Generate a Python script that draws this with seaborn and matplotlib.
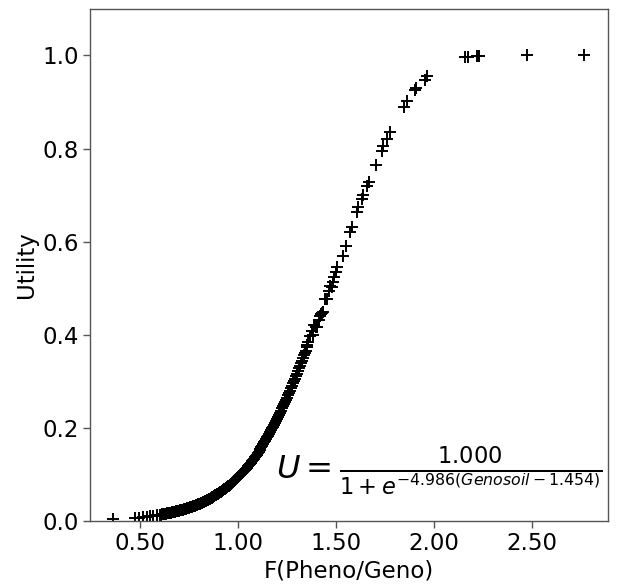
import matplotlib
matplotlib.use("Agg")
import matplotlib.pyplot as plt
from matplotlib.ticker import FormatStrFormatter
import seaborn as sns
import pandas as pd

# Low tail points
x_low = [0.362, 0.474, 0.495, 0.515, 0.536, 0.551, 0.566, 0.587]
y_low = [0.004, 0.007, 0.008, 0.009, 0.010, 0.011, 0.012, 0.013]

# Dense part of the curve
x_dense = [0.60, 0.61, 0.62, 0.63, 0.64, 0.65, 0.66, 0.67, 0.68, 0.69,
           0.70, 0.71, 0.72, 0.73, 0.74, 0.75, 0.76, 0.77, 0.78, 0.79,
           0.80, 0.81, 0.82, 0.83, 0.84, 0.85, 0.86, 0.87, 0.88, 0.89,
           0.90, 0.91, 0.92, 0.93, 0.94, 0.95, 0.96, 0.97, 0.98, 0.99,
           1.00, 1.01, 1.02, 1.03, 1.04, 1.05, 1.06, 1.07, 1.08, 1.09,
           1.10, 1.11, 1.12, 1.13, 1.14, 1.15, 1.16, 1.17, 1.18, 1.19,
           1.20, 1.21, 1.22, 1.23, 1.24, 1.25, 1.26, 1.27, 1.28, 1.29,
           1.30, 1.31, 1.32, 1.33, 1.34, 1.35, 1.36, 1.37, 1.38, 1.39]
y_dense = [0.0140, 0.0147, 0.0154, 0.0162, 0.0170, 0.0178, 0.0187, 0.0197, 0.0206, 0.0217,
           0.0228, 0.0239, 0.0251, 0.0263, 0.0276, 0.0290, 0.0305, 0.0320, 0.0335, 0.0352,
           0.0369, 0.0388, 0.0407, 0.0427, 0.0447, 0.0469, 0.0492, 0.0516, 0.0541, 0.0567,
           0.0594, 0.0622, 0.0652, 0.0683, 0.0716, 0.0750, 0.0785, 0.0822, 0.0860, 0.0900,
           0.0942, 0.0985, 0.1030, 0.1078, 0.1126, 0.1176, 0.1230, 0.1284, 0.1340, 0.1401,
           0.1462, 0.1524, 0.1590, 0.1658, 0.1727, 0.1802, 0.1876, 0.1953, 0.2033, 0.2114,
           0.2198, 0.2283, 0.2375, 0.2463, 0.2558, 0.2653, 0.2755, 0.2857, 0.2959, 0.3058,
           0.3165, 0.3279, 0.3390, 0.3497, 0.3610, 0.3731, 0.3846, 0.3968, 0.4088, 0.4209]

# More points in the dense band
x_dense2 = [0.605, 0.615, 0.625, 0.635, 0.645, 0.655, 0.665, 0.675, 0.685, 0.695,
            0.705, 0.715, 0.725, 0.735, 0.745, 0.755, 0.765, 0.775, 0.785, 0.795,
            0.805, 0.815, 0.825, 0.835, 0.845, 0.855, 0.865, 0.875, 0.885, 0.895,
            0.905, 0.915, 0.925, 0.935, 0.945, 0.955, 0.965, 0.975, 0.985, 0.995,
            1.005, 1.015, 1.025, 1.035, 1.045, 1.055, 1.065, 1.075, 1.085, 1.095,
            1.105, 1.115, 1.125, 1.135, 1.145, 1.155, 1.165, 1.175, 1.185, 1.195,
            1.205, 1.215, 1.225, 1.235, 1.245, 1.255, 1.265, 1.275, 1.285, 1.295,
            1.305, 1.315, 1.325, 1.335, 1.345, 1.355]
y_dense2 = [0.0143, 0.0150, 0.0158, 0.0166, 0.0174, 0.0183, 0.0192, 0.0202, 0.0212, 0.0222,
            0.0233, 0.0245, 0.0257, 0.0270, 0.0283, 0.0297, 0.0312, 0.0328, 0.0344, 0.0361,
            0.0378, 0.0397, 0.0416, 0.0437, 0.0458, 0.0480, 0.0504, 0.0528, 0.0553, 0.0580,
            0.0608, 0.0637, 0.0668, 0.0699, 0.0733, 0.0767, 0.0803, 0.0840, 0.0880, 0.0921,
            0.0963, 0.1008, 0.1053, 0.1101, 0.1151, 0.1202, 0.1258, 0.1312, 0.1370, 0.1431,
            0.1493, 0.1558, 0.1623, 0.1692, 0.1764, 0.1838, 0.1916, 0.1992, 0.2075, 0.2155,
            0.2242, 0.2326, 0.2421, 0.2513, 0.2604, 0.2703, 0.2801, 0.2907, 0.3012, 0.3115,
            0.3215, 0.3333, 0.3448, 0.3559, 0.3663, 0.3788]

# Sparse upper points
x_high = [1.383, 1.398, 1.403, 1.413, 1.418, 1.423, 1.429, 1.434, 1.444, 1.454,
          1.464, 1.469, 1.480, 1.485, 1.490, 1.500, 1.505, 1.536, 1.551, 1.571,
          1.582, 1.607, 1.612, 1.633, 1.638, 1.658, 1.668, 1.704, 1.735, 1.740,
          1.760, 1.776, 1.847, 1.862, 1.903, 1.908, 1.954, 1.964, 2.158, 2.173,
          2.219, 2.229, 2.474, 2.765]
y_high = [0.400, 0.416, 0.416, 0.433, 0.440, 0.444, 0.448, 0.450, 0.476, 0.476,
          0.494, 0.504, 0.502, 0.513, 0.524, 0.534, 0.545, 0.569, 0.590, 0.621,
          0.631, 0.664, 0.675, 0.692, 0.700, 0.720, 0.728, 0.765, 0.795, 0.806,
          0.821, 0.836, 0.890, 0.903, 0.925, 0.929, 0.948, 0.955, 0.996, 0.996,
          0.998, 0.998, 1.000, 1.000]

x_ticks = [0.5, 1.0, 1.5, 2.0, 2.5]
y_ticks = [0.0, 0.2, 0.4, 0.6, 0.8, 1.0]

df = pd.DataFrame({"F": x_low + x_dense + x_dense2 + x_high,
                   "U": y_low + y_dense + y_dense2 + y_high})

sns.set_style("ticks")
plt.rcParams["font.family"] = ["DejaVu Sans"]
plt.rcParams["text.color"] = "black"
plt.rcParams["axes.labelcolor"] = "black"
plt.rcParams["xtick.labelcolor"] = "black"
plt.rcParams["ytick.labelcolor"] = "black"

fig = plt.figure(figsize=(6.17, 5.85), dpi=100)
ax = fig.add_axes([0.146, 0.109, 0.839, 0.876])

sns.scatterplot(data=df, x="F", y="U", marker="+", color="black", s=75,
                linewidth=1.4, ax=ax, legend=False)

ax.set_ylim(0, 1.1)
ax.set_xlim(0.245, 2.888)
ax.set_xticks(x_ticks)
ax.set_yticks(y_ticks)
ax.xaxis.set_major_formatter(FormatStrFormatter("%.2f"))
ax.yaxis.set_major_formatter(FormatStrFormatter("%.1f"))
ax.tick_params(labelsize=16.5, length=5, width=1, color="#555555", pad=3)
for sp in ax.spines.values():
    sp.set_color("#555555")
    sp.set_linewidth(1)
ax.set_xlabel("F(Pheno/Geno)", fontsize=16.5, labelpad=3)
ax.set_ylabel("Utility", fontsize=16.5, labelpad=3)

ax.text(0.99, 0.096, r"$U = \frac{1.000}{1+e^{-4.986(Genosoil-1.454)}}$",
        transform=ax.transAxes, ha="right", va="center", fontsize=23.2)

fig.savefig("out.png", dpi=100)
